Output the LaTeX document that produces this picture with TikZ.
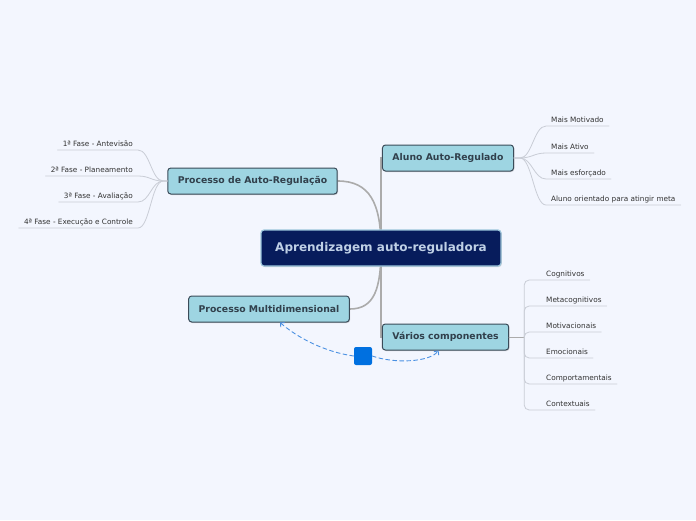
\documentclass[tikz,border=0pt]{standalone}
\usepackage{fontspec}
\setmainfont{DejaVu Sans}
\usetikzlibrary{shadows,arrows.meta,backgrounds}
\definecolor{fundo}{HTML}{F3F6FE}
\definecolor{azulescuro}{HTML}{071C5C}
\definecolor{textocentro}{HTML}{BFD0E6}
\definecolor{bordacentro}{HTML}{9CC6DC}
\definecolor{ciano}{HTML}{9ED5E2}
\definecolor{borda}{HTML}{3A4B59}
\definecolor{ramocor}{HTML}{ABABAB}
\definecolor{folhacor}{HTML}{C9CDD6}
\definecolor{azulrel}{HTML}{4A90E2}
\definecolor{azulbloco}{HTML}{0070E0}

\begin{document}
\begin{tikzpicture}[x=1pt, y=-1pt, line join=round, line cap=round,
	central/.style={draw=bordacentro, line width=1.2pt, fill=azulescuro, text=textocentro, rounded corners=3pt,
		font=\fontsize{12}{14}\selectfont\bfseries, minimum width=240pt, minimum height=36pt,
		drop shadow={shadow xshift=.8pt, shadow yshift=-1pt, opacity=.3}},
	topico/.style={draw=borda, line width=1pt, fill=ciano, text=borda!85!black, rounded corners=3pt,
		font=\fontsize{9.3}{11}\selectfont\bfseries, minimum height=26pt, inner xsep=10pt,
		drop shadow={shadow xshift=.8pt, shadow yshift=-1pt, opacity=.35}},
	folha/.style={font=\fontsize{7.3}{9}\selectfont, text=black!80, inner xsep=5pt, inner ysep=2pt, text height=5.5pt, text depth=1.5pt},
	ramo/.style={draw=ramocor, line width=1.6pt},
	linha/.style={draw=folhacor, line width=.8pt},
	rel/.style={draw=azulrel, line width=.9pt, dash pattern=on 4pt off 3pt, -{Straight Barb[length=3pt,width=6pt]}},
	bloco/.style={fill=azulbloco, rounded corners=2pt, minimum size=18pt, inner sep=0pt}]
	\useasboundingbox (0,0) rectangle (696,520);
	% nós principais
	\node[central] (cn) at (381,248) {Aprendizagem auto-reguladora};
	\node[topico] (par) at (252.5,181) {Processo de Auto-Regulação};
	\node[topico] (aar) at (448,158) {Aluno Auto-Regulado};
	\node[topico] (pm) at (269,309) {Processo Multidimensional};
	\node[topico] (vc) at (445.5,337) {Vários componentes};
	% folhas
	\node[folha, anchor=south east] (f1) at (138,150) {1ª Fase - Antevisão};
	\node[folha, anchor=south east] (f2) at (138,176) {2ª Fase - Planeamento};
	\node[folha, anchor=south east] (f3) at (138,202) {3ª Fase - Avaliação};
	\node[folha, anchor=south east] (f4) at (138,228) {4ª Fase - Execução e Controle};
	\node[folha, anchor=south west] (m1) at (546,126) {Mais Motivado};
	\node[folha, anchor=south west] (m2) at (546,153) {Mais Ativo};
	\node[folha, anchor=south west] (m3) at (546,179) {Mais esforçado};
	\node[folha, anchor=south west] (m4) at (546,205) {Aluno orientado para atingir meta};
	\node[folha, anchor=south west] (c1) at (541,280) {Cognitivos};
	\node[folha, anchor=south west] (c2) at (541,306) {Metacognitivos};
	\node[folha, anchor=south west] (c3) at (541,332) {Motivacionais};
	\node[folha, anchor=south west] (c4) at (541,358) {Emocionais};
	\node[folha, anchor=south west] (c5) at (541,384) {Comportamentais};
	\node[folha, anchor=south west] (c6) at (541,410) {Contextuais};
	\node[bloco] (rl) at (363,356) {};
	\begin{scope}[on background layer]
		\fill[fundo] (0,0) rectangle (696,520);
		\draw[ramo] (cn.center) .. controls +(0,-45) and +(32,0) .. (par.east);
		\draw[ramo] (cn.center) |- (aar.west);
		\draw[ramo] (cn.center) .. controls +(0,40) and +(25,0) .. (pm.east);
		\draw[ramo] (cn.center) |- (vc.west);
	\end{scope}
	% ligações das folhas
	\foreach \f in {f1,f2,f3,f4}
		\draw[linha] (par.west) -- ++(-4,0) .. controls +(-12,0) and +(12,0) .. (\f.south east) -- (\f.south west);
	\foreach \m in {m1,m2,m3,m4}
		\draw[linha] (aar.east) -- ++(6,0) .. controls +(12,0) and +(-12,0) .. (\m.south west) -- (\m.south east);
	\draw[ramo, line width=1pt] (vc.east) -- ++(15,0);
	\foreach \c in {c1,c2,c3,c4,c5,c6}
		\draw[linha, rounded corners=5pt] (vc.east) ++(15,0) |- (\c.south east);
	% relação
	\draw[rel] (rl.west) .. controls (325,352) and (298,338) .. ([xshift=11pt]pm.south);
	\draw[rel] (rl.east) .. controls (395,364) and (430,362) .. ([xshift=-7pt]vc.south);
\end{tikzpicture}
\end{document}
